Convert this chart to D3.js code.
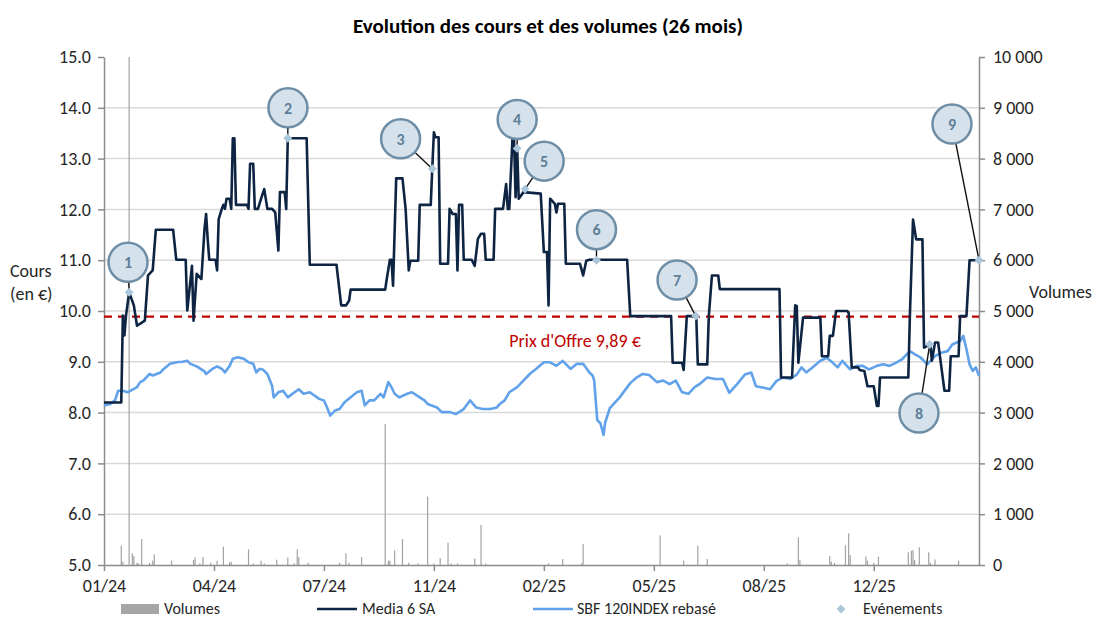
<!DOCTYPE html>
<html>
<head>
<meta charset="utf-8">
<script src="https://cdnjs.cloudflare.com/ajax/libs/d3/7.8.5/d3.min.js"></script>
<style>
  body { margin: 0; background: #fff; }
  svg { font-family: Carlito, Lato, sans-serif; }
</style>
</head>
<body>
<div id="chart-area"></div>
<script>
// x positions are trading-day indexes from the first session (01/24)
var tickDays = [0, 70, 140, 210, 280, 350, 420, 490];
var tickLabels = ["01/24", "04/24", "07/24", "11/24", "02/25", "05/25", "08/25", "12/25"];

var stockDays = [0, 11, 12, 13, 14, 16, 19, 21, 26, 28, 31, 33, 44, 46, 52, 53, 56, 57, 59, 62,
  64, 65, 66, 67, 71, 72, 73, 75, 76, 77, 78, 80, 81, 82, 83, 84, 91, 92, 93, 95,
  96, 98, 100, 102, 104, 107, 109, 111, 112, 115, 116, 117, 129, 131, 148, 151, 154, 156, 157, 179,
  180, 182, 183, 184, 186, 190, 192, 194, 195, 200, 201, 208, 209, 210, 211, 213, 214, 219, 220, 222,
  224, 225, 226, 228, 229, 234, 236, 238, 240, 242, 243, 248, 249, 254, 256, 257, 258, 260, 261, 262,
  263, 264, 267, 278, 280, 282, 283, 284, 287, 288, 289, 293, 294, 303, 305, 307, 309, 333, 335, 361,
  362, 368, 369, 371, 377, 378, 384, 385, 387, 391, 392, 430, 431, 438, 440, 441, 442, 445, 456, 457,
  461, 462, 464, 466, 473, 474, 476, 480, 481, 484, 486, 490, 492, 493, 494, 512, 513, 515, 517, 521,
  522, 526, 527, 529, 531, 535, 538, 539, 544, 545, 549, 551, 557];
var stockValues = [8.20, 8.20, 9.91, 9.52, 9.91, 10.37, 10.11, 9.71, 9.81, 10.70, 10.80, 11.60, 11.60, 11.01, 11.01, 10.01, 10.89, 9.81, 10.73, 10.63,
  11.62, 11.91, 11.42, 11.01, 11.01, 10.80, 11.81, 12.01, 12.09, 12.01, 12.21, 12.21, 12.01, 13.40, 13.40, 12.09, 12.09, 12.01, 12.90, 12.90,
  12.01, 12.01, 12.21, 12.40, 12.01, 12.01, 11.94, 11.19, 12.34, 12.34, 12.01, 13.40, 13.40, 10.91, 10.91, 10.11, 10.11, 10.20, 10.42, 10.42,
  10.63, 11.01, 11.01, 10.50, 12.61, 12.61, 12.01, 10.80, 10.99, 10.99, 12.09, 12.09, 12.83, 13.52, 13.42, 13.42, 10.93, 10.93, 12.01, 11.91,
  11.91, 10.80, 12.09, 12.09, 11.01, 11.01, 10.89, 11.42, 11.52, 11.52, 11.01, 11.01, 12.01, 12.01, 12.50, 12.01, 12.01, 13.39, 13.39, 12.24,
  13.23, 12.21, 12.34, 12.31, 11.16, 11.16, 10.11, 12.21, 12.11, 11.94, 12.11, 12.11, 10.93, 10.93, 10.70, 10.99, 11.01, 11.01, 9.90, 9.90,
  8.98, 8.98, 8.84, 9.90, 9.90, 8.95, 8.95, 9.90, 10.70, 10.70, 10.43, 10.43, 8.69, 8.69, 10.11, 10.10, 8.98, 9.87, 9.87, 9.11,
  9.11, 9.51, 9.51, 10.00, 10.00, 9.97, 8.89, 8.89, 8.84, 8.82, 8.52, 8.52, 8.13, 8.13, 8.69, 8.69, 9.90, 11.80, 11.41, 11.41,
  9.28, 9.34, 9.02, 9.38, 9.38, 8.43, 8.43, 9.11, 9.11, 9.90, 9.90, 11.00, 11.00];

var sbfDays = [0, 4, 7, 9, 12, 15, 21, 23, 25, 29, 31, 36, 38, 42, 46, 50, 53, 55, 59, 64,
  65, 69, 72, 75, 77, 80, 82, 85, 89, 92, 95, 97, 99, 101, 104, 107, 108, 111, 114, 117,
  120, 124, 127, 131, 137, 140, 142, 144, 147, 150, 153, 157, 161, 164, 166, 169, 172, 176, 178, 181,
  183, 185, 188, 193, 196, 201, 204, 206, 212, 215, 220, 224, 229, 233, 237, 241, 246, 250, 252, 255,
  258, 263, 267, 271, 275, 280, 284, 288, 292, 297, 301, 305, 309, 311, 312, 314, 316, 318, 319, 322,
  328, 335, 339, 343, 347, 352, 356, 360, 364, 368, 372, 376, 379, 384, 389, 394, 398, 403, 408, 412,
  415, 420, 424, 428, 432, 437, 441, 444, 447, 451, 456, 460, 464, 467, 470, 475, 479, 483, 487, 492,
  496, 500, 504, 508, 513, 516, 520, 524, 529, 533, 537, 540, 545, 547, 549, 551, 553, 555, 557];
var sbfValues = [8.14, 8.17, 8.24, 8.43, 8.43, 8.40, 8.50, 8.60, 8.63, 8.76, 8.73, 8.79, 8.86, 8.96, 8.99, 9.00, 9.02, 8.96, 8.91, 8.81,
  8.76, 8.86, 8.91, 8.86, 8.79, 8.92, 9.06, 9.09, 9.06, 8.99, 8.96, 8.79, 8.86, 8.85, 8.76, 8.53, 8.30, 8.40, 8.43, 8.30,
  8.37, 8.46, 8.37, 8.40, 8.27, 8.24, 8.10, 7.94, 8.04, 8.07, 8.20, 8.30, 8.40, 8.43, 8.14, 8.24, 8.24, 8.37, 8.30, 8.60,
  8.50, 8.37, 8.30, 8.37, 8.40, 8.30, 8.24, 8.17, 8.10, 8.01, 8.01, 7.97, 8.07, 8.24, 8.10, 8.07, 8.07, 8.10, 8.17, 8.24,
  8.40, 8.50, 8.63, 8.76, 8.86, 8.99, 8.99, 8.92, 9.02, 8.86, 8.96, 8.96, 8.79, 8.73, 8.64, 7.85, 7.79, 7.56, 7.80, 8.09,
  8.29, 8.58, 8.69, 8.76, 8.74, 8.60, 8.63, 8.56, 8.63, 8.40, 8.37, 8.50, 8.56, 8.69, 8.66, 8.66, 8.39, 8.56, 8.75, 8.79,
  8.52, 8.49, 8.46, 8.62, 8.69, 8.66, 8.75, 8.89, 8.79, 8.89, 9.02, 9.08, 8.98, 8.89, 9.02, 8.85, 8.92, 8.92, 8.85, 8.92,
  8.95, 8.92, 8.98, 9.05, 9.21, 9.15, 9.08, 8.95, 9.11, 9.18, 9.21, 9.34, 9.41, 9.51, 9.25, 8.95, 8.82, 8.89, 8.72];

var volumeDays = [11, 12, 16, 18, 19, 21, 22, 24, 29, 31, 32, 43, 57, 58, 61, 63, 68, 72, 76, 80,
  81, 92, 95, 100, 102, 110, 117, 121, 123, 124, 130, 150, 154, 156, 164, 179, 181, 182, 185, 190,
  194, 200, 206, 210, 214, 219, 221, 225, 236, 240, 243, 283, 292, 304, 305, 354, 369, 378, 384, 435,
  442, 443, 462, 463, 465, 472, 474, 475, 485, 486, 490, 493, 512, 514, 515, 516, 519, 525, 526, 529, 544];
var volumeValues = [380, 65, 12000, 230, 177, 45, 30, 512, 45, 85, 210, 85, 100, 150, 30, 157, 45, 85, 360, 60,
  55, 308, 30, 85, 30, 105, 144, 30, 308, 157, 45, 45, 230, 45, 157, 2775, 85, 85, 290, 512,
  45, 30, 1345, 30, 138, 440, 30, 30, 125, 787, 30, 30, 118, 30, 413, 584, 85, 380, 118, 30,
  545, 98, 177, 65, 45, 387, 623, 197, 170, 85, 45, 164, 250, 282, 295, 98, 348, 250, 45, 110, 85];

var offerPrice = 9.89;

// events: diamond position and numbered bubble position (data units)
var eventNumbers = [1, 2, 3, 4, 5, 6, 7, 8, 9];
var eventDays = [16, 117, 209, 263, 268, 313.5, 376.7, 525.6, 557];
var eventValues = [10.37, 13.4, 12.8, 13.2, 12.4, 11.0, 9.9, 9.34, 11.0];
var bubbleDays = [15.3, 117.1, 188.8, 263, 280.2, 313.5, 364.8, 518.8, 539.8];
var bubbleValues = [10.96, 14.0, 13.39, 13.77, 12.95, 11.6, 10.61, 7.99, 13.68];

var width = 1096, height = 619;
var margin = {left: 104, right: 117, top: 57, bottom: 54};
var fontSize = 18;
var textColor = "#262626";

var svg = d3.select("#chart-area")
    .append("svg")
    .attr("width", width)
    .attr("height", height);

var x = d3.scaleLinear().domain([0, 557]).range([margin.left, width - margin.right]);
var y = d3.scaleLinear().domain([5, 15]).range([height - margin.bottom, margin.top]);
var yVol = d3.scaleLinear().domain([0, 10000]).range([height - margin.bottom, margin.top]);

svg.append("defs").append("clipPath").attr("id", "plot-clip")
    .append("rect")
    .attr("x", margin.left).attr("y", margin.top)
    .attr("width", width - margin.left - margin.right)
    .attr("height", height - margin.top - margin.bottom);

// title
svg.append("text")
    .attr("x", 548).attr("y", 33)
    .attr("text-anchor", "middle")
    .attr("font-size", 21).attr("font-weight", "bold")
    .attr("fill", "#000")
    .text("Evolution des cours et des volumes (26 mois)");

// gridlines
svg.append("g")
    .selectAll("line")
    .data(d3.range(6, 15))
    .enter()
    .append("line")
        .attr("x1", margin.left).attr("x2", width - margin.right)
        .attr("y1", (d) => y(d)).attr("y2", (d) => y(d))
        .attr("stroke", "#d9d9d9").attr("stroke-width", 1.5);

// volumes
svg.append("g").attr("clip-path", "url(#plot-clip)")
    .selectAll("rect")
    .data(volumeDays)
    .enter()
    .append("rect")
        .attr("x", (d) => x(d) - 0.6)
        .attr("width", 1.2)
        .attr("y", (d, i) => yVol(volumeValues[i]))
        .attr("height", (d, i) => yVol(0) - yVol(volumeValues[i]))
        .attr("fill", "#a3a3a3");

// axes
var axisColor = "#8c8c8c";

var xAxis = d3.axisBottom(x)
    .tickValues(tickDays)
    .tickFormat((d, i) => tickLabels[i])
    .tickSize(6).tickSizeOuter(0).tickPadding(8);
var gx = svg.append("g")
    .attr("transform", "translate(0," + y(5) + ")")
    .call(xAxis);

var yAxis = d3.axisLeft(y)
    .tickValues(d3.range(5, 15.01, 1))
    .tickFormat(d3.format(".1f"))
    .tickSize(6).tickSizeOuter(0).tickPadding(7);
var gy = svg.append("g")
    .attr("transform", "translate(" + margin.left + ",0)")
    .call(yAxis);

var yAxisR = d3.axisRight(yVol)
    .tickValues(d3.range(0, 10001, 1000))
    .tickFormat((d) => d3.format(",")(d).replace(/,/g, " "))
    .tickSize(6).tickSizeOuter(0).tickPadding(8);
var gr = svg.append("g")
    .attr("transform", "translate(" + (width - margin.right) + ",0)")
    .call(yAxisR);

[gx, gy, gr].forEach((g) => {
    g.select(".domain").attr("stroke", axisColor).attr("stroke-width", 1.5);
    g.selectAll(".tick line").attr("stroke", axisColor).attr("stroke-width", 1.5);
    g.selectAll(".tick text")
        .attr("font-size", fontSize)
        .attr("font-family", "Carlito, Lato, sans-serif")
        .attr("fill", textColor);
});

// offer price line
svg.append("line")
    .attr("x1", margin.left).attr("x2", width - margin.right)
    .attr("y1", y(offerPrice)).attr("y2", y(offerPrice))
    .attr("stroke", "#c00000").attr("stroke-width", 2.2)
    .attr("stroke-dasharray", "8,6");

svg.append("text")
    .attr("x", 575).attr("y", 347)
    .attr("text-anchor", "middle")
    .attr("font-size", fontSize)
    .attr("fill", "#c00000")
    .text("Prix d'Offre 9,89 €");

// SBF 120 rebased
var sbfLine = d3.line()
    .x((d) => x(d))
    .y((d, i) => y(sbfValues[i]));
svg.append("path")
    .datum(sbfDays)
    .attr("d", sbfLine)
    .attr("fill", "none")
    .attr("stroke", "#62a2ea")
    .attr("stroke-width", 2.6)
    .attr("stroke-linejoin", "round");

// Media 6 share price
var stockLine = d3.line()
    .x((d) => x(d))
    .y((d, i) => y(stockValues[i]));
svg.append("path")
    .datum(stockDays)
    .attr("d", stockLine)
    .attr("fill", "none")
    .attr("stroke", "#0e2443")
    .attr("stroke-width", 2.6)
    .attr("stroke-linejoin", "round");

// events: leaders, diamonds, bubbles
var bubbleR = 19.5;
var events = eventNumbers.map((n, i) => {
    var ex = x(eventDays[i]), ey = y(eventValues[i]);
    var bx = x(bubbleDays[i]), by = y(bubbleValues[i]);
    var dx = ex - bx, dy = ey - by, len = Math.sqrt(dx * dx + dy * dy);
    return {n: n, ex: ex, ey: ey, bx: bx, by: by,
        sx: bx + dx / len * bubbleR, sy: by + dy / len * bubbleR};
});

svg.append("g")
    .selectAll("line")
    .data(events)
    .enter()
    .append("line")
        .attr("x1", (d) => d.sx).attr("y1", (d) => d.sy)
        .attr("x2", (d) => d.ex).attr("y2", (d) => d.ey)
        .attr("stroke", "#111").attr("stroke-width", 1.4);

var diamond = d3.symbol().type(d3.symbolDiamond2).size(50);
svg.append("g")
    .selectAll("path")
    .data(events)
    .enter()
    .append("path")
        .attr("d", diamond)
        .attr("transform", (d) => "translate(" + d.ex + "," + d.ey + ")")
        .attr("fill", "#a9c6da");

var bubbles = svg.append("g")
    .selectAll("g")
    .data(events)
    .enter()
    .append("g")
        .attr("transform", (d) => "translate(" + d.bx + "," + d.by + ")");
bubbles.append("circle")
    .attr("r", bubbleR)
    .attr("fill", "#d5e2ec")
    .attr("stroke", "#6d8ea6")
    .attr("stroke-width", 2.5);
bubbles.append("text")
    .attr("text-anchor", "middle")
    .attr("dy", "0.36em")
    .attr("font-size", 16)
    .attr("font-weight", "bold")
    .attr("fill", "#5f7f98")
    .text((d) => d.n);

// axis titles
svg.append("text").attr("x", 10).attr("y", 277)
    .attr("font-size", fontSize).attr("fill", textColor).text("Cours");
svg.append("text").attr("x", 10).attr("y", 300)
    .attr("font-size", fontSize).attr("fill", textColor).text("(en €)");
svg.append("text").attr("x", 1029).attr("y", 298)
    .attr("font-size", fontSize).attr("fill", textColor).text("Volumes");

// legend
var legend = svg.append("g").attr("font-size", 16).attr("fill", textColor);
legend.append("rect")
    .attr("x", 121).attr("y", 604).attr("width", 38).attr("height", 10)
    .attr("fill", "#a6a6a6");
legend.append("text").attr("x", 164).attr("y", 614).text("Volumes");
legend.append("line")
    .attr("x1", 317).attr("x2", 357).attr("y1", 609).attr("y2", 609)
    .attr("stroke", "#0e2443").attr("stroke-width", 2.6);
legend.append("text").attr("x", 362).attr("y", 614).text("Media 6 SA");
legend.append("line")
    .attr("x1", 533).attr("x2", 573).attr("y1", 609).attr("y2", 609)
    .attr("stroke", "#62a2ea").attr("stroke-width", 2.6);
legend.append("text").attr("x", 577).attr("y", 614).text("SBF 120INDEX rebasé");
legend.append("path")
    .attr("d", diamond)
    .attr("transform", "translate(841,609)")
    .attr("fill", "#a9c6da");
legend.append("text").attr("x", 863).attr("y", 614).text("Evénements");
</script>
</body>
</html>
